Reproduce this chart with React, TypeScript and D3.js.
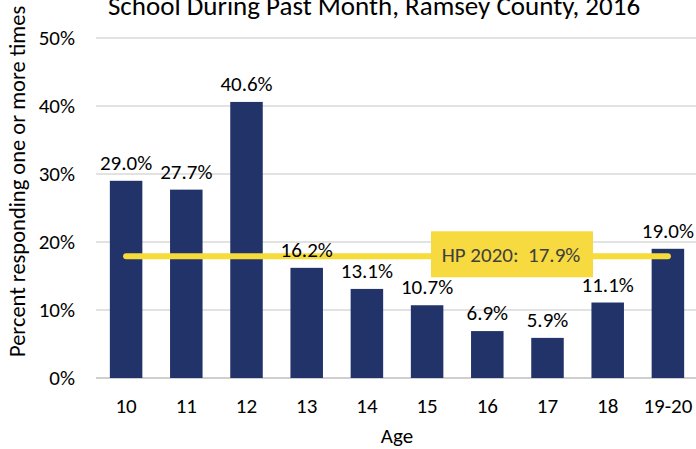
import React, { useEffect, useRef } from 'react'
import * as d3 from 'd3'

const ages = ['10', '11', '12', '13', '14', '15', '16', '17', '18', '19-20']
const percents = [29.0, 27.7, 40.6, 16.2, 13.1, 10.7, 6.9, 5.9, 11.1, 19.0]
const yTicks = [0, 10, 20, 30, 40, 50]
const hpTarget = 17.9
const hpLabel = 'HP 2020:  17.9%'

const App = () => {
  const ref = useRef<SVGSVGElement>(null)

  useEffect(() => {
    const svg = d3.select(ref.current)
    svg.selectAll('*').remove()
    const font = 'Carlito, Calibri, Lato, sans-serif'

    const x = d3.scaleBand().domain(ages).range([96, 698]).paddingInner(0.46).paddingOuter(0.23)
    const y = d3.scaleLinear().domain([0, 50]).range([378, 38])

    // 标题（顶部被裁掉一部分）
    svg.append('text')
      .attr('x', 374).attr('y', 15)
      .attr('text-anchor', 'middle')
      .attr('font-family', font).attr('font-size', 27).attr('fill', '#000')
      .text('School During Past Month, Ramsey County, 2016')

    // 网格线
    svg.append('g').selectAll('line')
      .data(yTicks)
      .enter().append('line')
      .attr('x1', 96).attr('x2', 696)
      .attr('y1', d => y(d)).attr('y2', d => y(d))
      .attr('stroke', d => d === 0 ? '#bfbfbf' : '#d9d9d9')
      .attr('stroke-width', 1.5)

    svg.append('g').selectAll('text')
      .data(yTicks)
      .enter().append('text')
      .attr('x', 75).attr('y', d => y(d))
      .attr('dy', '0.35em')
      .attr('text-anchor', 'end')
      .attr('font-family', font).attr('font-size', 21).attr('fill', '#000')
      .text(d => d + '%')

    svg.append('text')
      .attr('transform', 'translate(25,357) rotate(-90)')
      .attr('text-anchor', 'start')
      .attr('font-family', font).attr('font-size', 22.5).attr('fill', '#000')
      .text('Percent responding one or more times')

    // 柱子
    svg.append('g').selectAll('rect')
      .data(percents)
      .enter().append('rect')
      .attr('x', (d, i) => x(ages[i])!)
      .attr('width', x.bandwidth())
      .attr('y', d => y(d))
      .attr('height', d => y(0) - y(d))
      .attr('fill', '#22336a')

    svg.append('g').selectAll('text')
      .data(ages)
      .enter().append('text')
      .attr('x', d => x(d)! + x.bandwidth() / 2)
      .attr('y', 413)
      .attr('text-anchor', 'middle')
      .attr('font-family', font).attr('font-size', 21).attr('fill', '#000')
      .text(d => d)

    svg.append('text')
      .attr('x', 397).attr('y', 443)
      .attr('text-anchor', 'middle')
      .attr('font-family', font).attr('font-size', 21).attr('fill', '#000')
      .text('Age')

    // HP 2020 目标线
    const x0 = x(ages[0])! + x.bandwidth() / 2
    const x1 = x(ages[ages.length - 1])! + x.bandwidth() / 2
    svg.append('line')
      .attr('x1', x0).attr('x2', x1)
      .attr('y1', y(hpTarget)).attr('y2', y(hpTarget))
      .attr('stroke', '#f5dc3a').attr('stroke-width', 6)
      .attr('stroke-linecap', 'round')

    svg.append('rect')
      .attr('x', 431).attr('y', y(hpTarget) - 25)
      .attr('width', 162).attr('height', 46)
      .attr('fill', '#f7da3f')

    svg.append('text')
      .attr('x', 511).attr('y', y(hpTarget) - 2)
      .attr('dy', '0.35em')
      .attr('text-anchor', 'middle')
      .attr('font-family', font).attr('font-size', 21).attr('fill', '#404040')
      .style('white-space', 'pre')
      .text(hpLabel)

    // 数据标签画在线的上面
    svg.append('g').selectAll('text')
      .data(percents)
      .enter().append('text')
      .attr('x', (d, i) => x(ages[i])! + x.bandwidth() / 2)
      .attr('y', d => y(d) - 11)
      .attr('text-anchor', 'middle')
      .attr('font-family', font).attr('font-size', 21).attr('fill', '#000')
      .text(d => d.toFixed(1) + '%')
  }, [])

  return (
    <div>
      <svg ref={ref} width={696} height={449} style={{ position: 'absolute', left: 0, top: 0 }} />
    </div>
  )
}

export default App
